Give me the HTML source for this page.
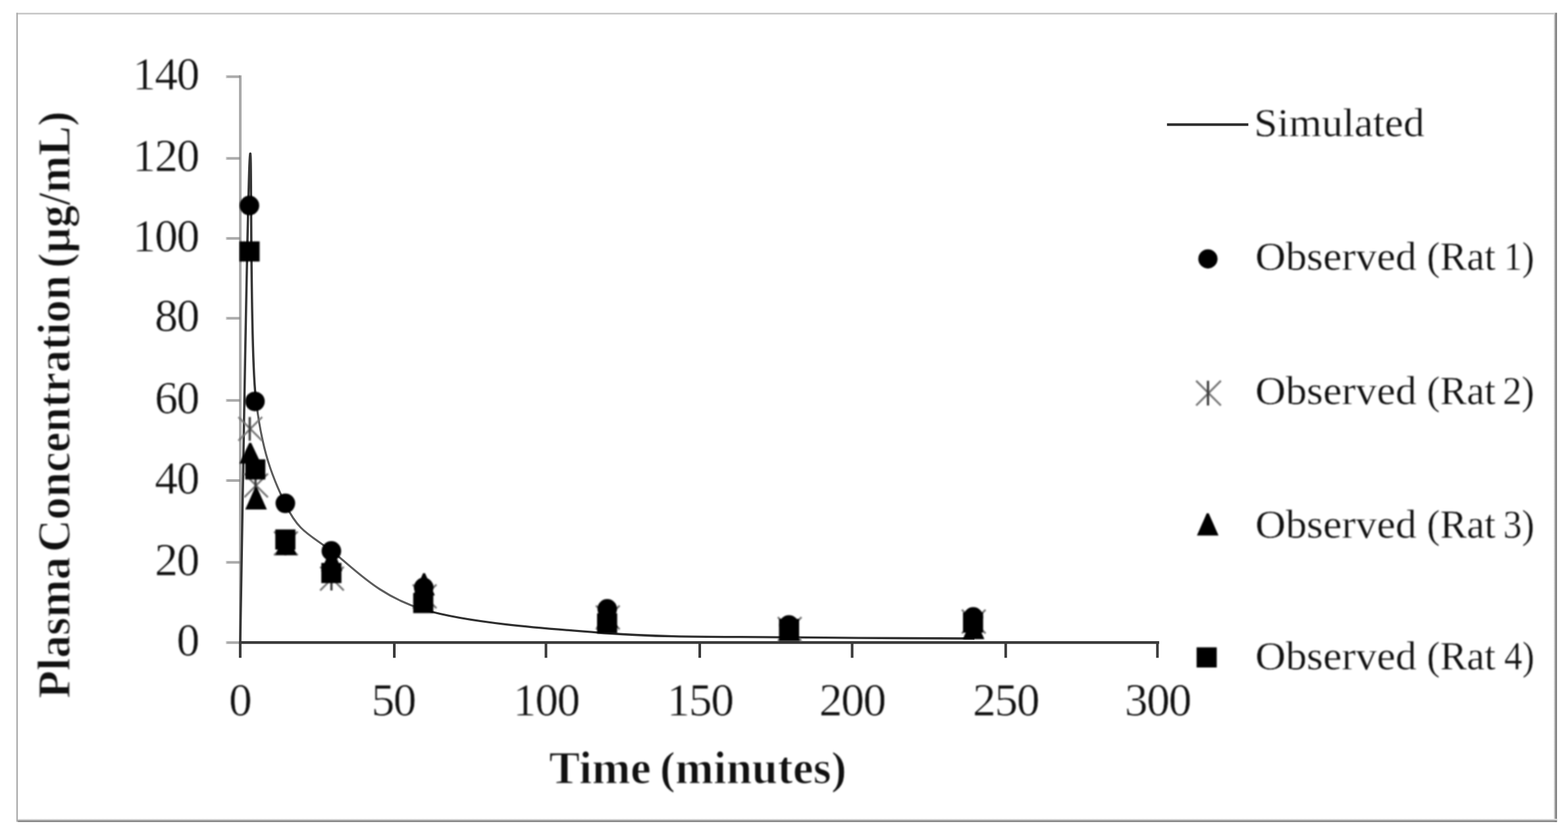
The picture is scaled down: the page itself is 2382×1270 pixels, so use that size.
<!DOCTYPE html>
<html lang="en">
<head>
<meta charset="utf-8">
<title>Plasma concentration vs. time</title>
<style>
html,body{margin:0;padding:0;background:#fff;}
body{width:2382px;height:1270px;overflow:hidden;}
svg{display:block;}
text{font-family:"Liberation Serif", serif;fill:#101010;}
.tick{font-size:70.4px;letter-spacing:-1.8px;stroke:#fff;stroke-width:0.6px;}
.leg{font-size:60.3px;stroke:#fff;stroke-width:0.4px;}
.ttl{font-size:69.5px;font-weight:bold;stroke:#fff;stroke-width:1.2px;}
</style>
</head>
<body>
<svg width="2382" height="1270" viewBox="0 0 2382 1270">
<rect x="0" y="0" width="2382" height="1270" fill="#ffffff"/>
<defs>
<linearGradient id="gb" x1="0" y1="0" x2="0" y2="1"><stop offset="0" stop-color="#f4f4f4"/><stop offset="0.55" stop-color="#a8a8a8"/><stop offset="0.75" stop-color="#797979"/><stop offset="1" stop-color="#797979"/></linearGradient>
<linearGradient id="gr" x1="0" y1="0" x2="1" y2="0"><stop offset="0" stop-color="#dcdcdc"/><stop offset="0.5" stop-color="#a6a6a6"/><stop offset="0.7" stop-color="#727272"/><stop offset="1" stop-color="#727272"/></linearGradient>
<filter id="soft" x="-1%" y="-1%" width="102%" height="102%" color-interpolation-filters="sRGB"><feGaussianBlur stdDeviation="1"/></filter>
</defs>
<g id="chart">
<g id="frame">
<rect x="24.8" y="19.5" width="2340.3" height="2.4" fill="#c4c4c4"/>
<rect x="24.8" y="19.5" width="2.3" height="1229" fill="#ababab"/>
<rect x="2360.5" y="19.5" width="4.7" height="1229.2" fill="url(#gr)"/>
<rect x="27.1" y="1243.9" width="2338.1" height="4.8" fill="url(#gb)"/>
</g>
<g id="axes">
<rect x="363" y="114.5" width="4" height="863.7" fill="#aaaaaa"/>
<rect x="343" y="114.5" width="20" height="4" fill="#aaaaaa"/>
<rect x="343" y="114.5" width="1.8" height="4" fill="#ffffff" fill-opacity="0.45"/>
<rect x="363" y="114.5" width="1.8" height="4" fill="#8c8c8c"/>
<rect x="343" y="238.6" width="20" height="4" fill="#aaaaaa"/>
<rect x="343" y="238.6" width="1.8" height="4" fill="#ffffff" fill-opacity="0.45"/>
<rect x="363" y="238.6" width="1.8" height="4" fill="#8c8c8c"/>
<rect x="343" y="360.2" width="20" height="4" fill="#aaaaaa"/>
<rect x="343" y="360.2" width="1.8" height="4" fill="#ffffff" fill-opacity="0.45"/>
<rect x="363" y="360.2" width="1.8" height="4" fill="#8c8c8c"/>
<rect x="343" y="481.5" width="20" height="4" fill="#aaaaaa"/>
<rect x="343" y="481.5" width="1.8" height="4" fill="#ffffff" fill-opacity="0.45"/>
<rect x="363" y="481.5" width="1.8" height="4" fill="#8c8c8c"/>
<rect x="343" y="606.3" width="20" height="4" fill="#aaaaaa"/>
<rect x="343" y="606.3" width="1.8" height="4" fill="#ffffff" fill-opacity="0.45"/>
<rect x="363" y="606.3" width="1.8" height="4" fill="#8c8c8c"/>
<rect x="343" y="728.0" width="20" height="4" fill="#aaaaaa"/>
<rect x="343" y="728.0" width="1.8" height="4" fill="#ffffff" fill-opacity="0.45"/>
<rect x="363" y="728.0" width="1.8" height="4" fill="#8c8c8c"/>
<rect x="343" y="852.3" width="20" height="4" fill="#aaaaaa"/>
<rect x="343" y="852.3" width="1.8" height="4" fill="#ffffff" fill-opacity="0.45"/>
<rect x="363" y="852.3" width="1.8" height="4" fill="#8c8c8c"/>
<rect x="343" y="974.2" width="20" height="4" fill="#aaaaaa"/>
<rect x="343" y="974.2" width="1.8" height="4" fill="#ffffff" fill-opacity="0.45"/>
<rect x="363" y="974.2" width="1.8" height="4" fill="#8c8c8c"/>
<rect x="363" y="974" width="1397.9" height="4.2" fill="#3b3b3b"/>
<rect x="362.9" y="976" width="4" height="23.3" fill="#3b3b3b"/>
<rect x="597.0" y="976" width="4" height="23.3" fill="#3b3b3b"/>
<rect x="827.4" y="976" width="4" height="23.3" fill="#3b3b3b"/>
<rect x="1061.0" y="976" width="4" height="23.3" fill="#3b3b3b"/>
<rect x="1292.5" y="976" width="4" height="23.3" fill="#3b3b3b"/>
<rect x="1525.8" y="976" width="4" height="23.3" fill="#3b3b3b"/>
<rect x="1756.3" y="976" width="4" height="23.3" fill="#3b3b3b"/>
</g>
<g id="ylabels" class="tick" text-anchor="end" filter="url(#soft)">
<text x="301.7" y="136.1">140</text>
<text x="301.7" y="260.2">120</text>
<text x="301.7" y="381.8">100</text>
<text x="301.7" y="503.1">80</text>
<text x="301.7" y="627.9">60</text>
<text x="301.7" y="749.6">40</text>
<text x="301.7" y="873.9">20</text>
<text x="301.7" y="995.8">0</text>
</g>
<g id="xlabels" class="tick" text-anchor="middle" filter="url(#soft)">
<text x="364.5" y="1087.0">0</text>
<text x="597.6" y="1087.0">50</text>
<text x="829.6" y="1087.0">100</text>
<text x="1063.2" y="1087.0">150</text>
<text x="1294.5" y="1087.0">200</text>
<text x="1527.8" y="1087.0">250</text>
<text x="1758.6" y="1087.0">300</text>
</g>
<g id="titles" filter="url(#soft)">
<text class="ttl" y="1190"><tspan x="834.1" textLength="154.9" lengthAdjust="spacingAndGlyphs">Time</tspan> <tspan x="1002.4" textLength="283.7" lengthAdjust="spacingAndGlyphs">(minutes)</tspan></text>
<text class="ttl" y="0" transform="translate(105.7,1060) rotate(-90)"><tspan x="-1.0" textLength="215.1" lengthAdjust="spacingAndGlyphs">Plasma</tspan> <tspan x="221.3" textLength="420.7" lengthAdjust="spacingAndGlyphs">Concentration</tspan> <tspan x="653.1" textLength="237.9" lengthAdjust="spacingAndGlyphs">(µg/mL)</tspan></text>
</g>
<g id="simulated" fill="none" stroke-linejoin="round">
<path d="M388.10,600.00 C397.18,686.68 415.25,728.42 434.60,768.00 C453.95,807.58 469.37,811.17 504.20,837.50 C539.03,863.83 573.92,905.25 643.60,926.00" stroke="#5c5c5c" stroke-width="3.1" stroke-linecap="round"/>
<path d="M643.60,926.00 C713.28,946.75 829.40,954.97 922.30,962.00 C1015.20,969.03 1108.00,966.87 1201.00,968.20 C1294.00,969.53 1433.75,969.70 1480.30,970.00" stroke="#2e2e2e" stroke-width="3.3" stroke-linecap="butt"/>
<path d="M364.90,976.20 C367.32,853.67 375.53,303.70 379.40,241.00 C383.27,178.30 378.90,512.17 388.10,600.00" stroke="#363636" stroke-width="3.5" stroke-linecap="butt"/>
</g>
<g id="markers" filter="url(#soft)">
<g id="rat1"><circle cx="378.9" cy="312.2" r="14.9" fill="#000"/><circle cx="387.3" cy="609.8" r="14.9" fill="#000"/><circle cx="433.5" cy="764.6" r="14.9" fill="#000"/><circle cx="503.4" cy="837" r="14.9" fill="#000"/><circle cx="643.7" cy="892.5" r="14.9" fill="#000"/><circle cx="922.5" cy="925" r="14.9" fill="#000"/><circle cx="1198.5" cy="949.4" r="14.9" fill="#000"/><circle cx="1478.5" cy="937.2" r="14.9" fill="#000"/></g>
<g id="rat2" style="mix-blend-mode:multiply"><path d="M362.2,633.5 L398.2,669.5 M398.2,633.5 L362.2,669.5" fill="none" stroke="#757575" stroke-width="3" stroke-linecap="butt"/><path d="M379.4,633.5 L379.4,669.5" fill="none" stroke="#383838" stroke-width="3.4" stroke-linecap="butt"/><path d="M371.0,719.5 L407.0,755.5 M407.0,719.5 L371.0,755.5" fill="none" stroke="#757575" stroke-width="3" stroke-linecap="butt"/><path d="M388.2,719.5 L388.2,755.5" fill="none" stroke="#383838" stroke-width="3.4" stroke-linecap="butt"/><path d="M416.3,807.5 L452.3,843.5 M452.3,807.5 L416.3,843.5" fill="none" stroke="#757575" stroke-width="3" stroke-linecap="butt"/><path d="M433.5,807.5 L433.5,843.5" fill="none" stroke="#383838" stroke-width="3.4" stroke-linecap="butt"/><path d="M486.3,861.0 L522.3,897.0 M522.3,861.0 L486.3,897.0" fill="none" stroke="#757575" stroke-width="3" stroke-linecap="butt"/><path d="M503.5,861.0 L503.5,897.0" fill="none" stroke="#383838" stroke-width="3.4" stroke-linecap="butt"/><path d="M627.0,888.0 L663.0,924.0 M663.0,888.0 L627.0,924.0" fill="none" stroke="#757575" stroke-width="3" stroke-linecap="butt"/><path d="M644.2,888.0 L644.2,924.0" fill="none" stroke="#383838" stroke-width="3.4" stroke-linecap="butt"/><path d="M905.3,920.0 L941.3,956.0 M941.3,920.0 L905.3,956.0" fill="none" stroke="#757575" stroke-width="3" stroke-linecap="butt"/><path d="M922.5,920.0 L922.5,956.0" fill="none" stroke="#383838" stroke-width="3.4" stroke-linecap="butt"/><path d="M1181.6,937.5 L1217.6,973.5 M1217.6,937.5 L1181.6,973.5" fill="none" stroke="#757575" stroke-width="3" stroke-linecap="butt"/><path d="M1198.8,937.5 L1198.8,973.5" fill="none" stroke="#383838" stroke-width="3.4" stroke-linecap="butt"/><path d="M1461.2,926.3 L1497.2,962.3 M1497.2,926.3 L1461.2,962.3" fill="none" stroke="#757575" stroke-width="3" stroke-linecap="butt"/><path d="M1478.4,926.3 L1478.4,962.3" fill="none" stroke="#383838" stroke-width="3.4" stroke-linecap="butt"/></g>
<g id="rat3"><polygon points="378.6,672.7 381.6,672.7 396.5,704.3 363.7,704.3" fill="#000"/><polygon points="387.5,740.4 390.5,740.4 405.4,774.0 372.6,774.0" fill="#000"/><polygon points="433.1,810.0 436.1,810.0 451.0,843.6 418.2,843.6" fill="#000"/><polygon points="502.3,834.0 505.3,834.0 520.2,867.6 487.4,867.6" fill="#000"/><polygon points="642.7,870.8 645.7,870.8 660.6,904.4 627.8,904.4" fill="#000"/><polygon points="921.0,919.5 924.0,919.5 938.9,953.1 906.1,953.1" fill="#000"/><polygon points="1197.5,940.5 1200.5,940.5 1215.4,974.1 1182.6,974.1" fill="#000"/><polygon points="1477.5,937.5 1480.5,937.5 1495.4,971.1 1462.6,971.1" fill="#000"/></g>
<g id="rat4"><rect x="363.8" y="366.7" width="30.6" height="30.6" fill="#000"/><rect x="372.5" y="697.8" width="30.6" height="30.6" fill="#000"/><rect x="418.2" y="804.3" width="30.6" height="30.6" fill="#000"/><rect x="488.1" y="855.2" width="30.6" height="30.6" fill="#000"/><rect x="627.7" y="900.8" width="30.6" height="30.6" fill="#000"/><rect x="907.0" y="931.7" width="30.6" height="30.6" fill="#000"/><rect x="1183.4" y="940.2" width="30.6" height="30.6" fill="#000"/><rect x="1462.9" y="930.4" width="30.6" height="30.6" fill="#000"/></g>
</g>
<rect x="1772.8" y="187.3" width="123.6" height="4" fill="#2c2c2c"/>
<g id="legend" filter="url(#soft)">
<circle cx="1835" cy="393.3" r="14.6" fill="#000"/>
<path d="M1817.1,578.4 L1854.7,616.0 M1854.7,578.4 L1817.1,616.0" fill="none" stroke="#757575" stroke-width="3" stroke-linecap="butt"/><path d="M1835.1,578.4 L1835.1,616.0" fill="none" stroke="#383838" stroke-width="3.4" stroke-linecap="butt"/>
<polygon points="1833.2,779.8 1836.2,779.8 1851.1,813.4 1818.3,813.4" fill="#000"/>
<rect x="1817.8" y="983.4" width="30.6" height="30.6" fill="#000"/>
<text class="leg" y="206.5"><tspan x="1905.1" textLength="258.7" lengthAdjust="spacingAndGlyphs">Simulated</tspan></text>
<text class="leg" y="410"><tspan x="1907.0" textLength="244.9" lengthAdjust="spacingAndGlyphs">Observed</tspan> <tspan x="2167.5" textLength="104.5" lengthAdjust="spacingAndGlyphs">(Rat</tspan> <tspan x="2284.7" textLength="46.1" lengthAdjust="spacingAndGlyphs">1)</tspan></text>
<text class="leg" y="614"><tspan x="1907.0" textLength="244.9" lengthAdjust="spacingAndGlyphs">Observed</tspan> <tspan x="2167.5" textLength="104.5" lengthAdjust="spacingAndGlyphs">(Rat</tspan> <tspan x="2282.7" textLength="48.2" lengthAdjust="spacingAndGlyphs">2)</tspan></text>
<text class="leg" y="816.9"><tspan x="1907.0" textLength="244.9" lengthAdjust="spacingAndGlyphs">Observed</tspan> <tspan x="2167.5" textLength="104.5" lengthAdjust="spacingAndGlyphs">(Rat</tspan> <tspan x="2283.6" textLength="47.3" lengthAdjust="spacingAndGlyphs">3)</tspan></text>
<text class="leg" y="1016.6"><tspan x="1907.0" textLength="244.9" lengthAdjust="spacingAndGlyphs">Observed</tspan> <tspan x="2167.5" textLength="104.5" lengthAdjust="spacingAndGlyphs">(Rat</tspan> <tspan x="2284.9" textLength="46.0" lengthAdjust="spacingAndGlyphs">4)</tspan></text>
</g>
</g>
</svg>
</body>
</html>
